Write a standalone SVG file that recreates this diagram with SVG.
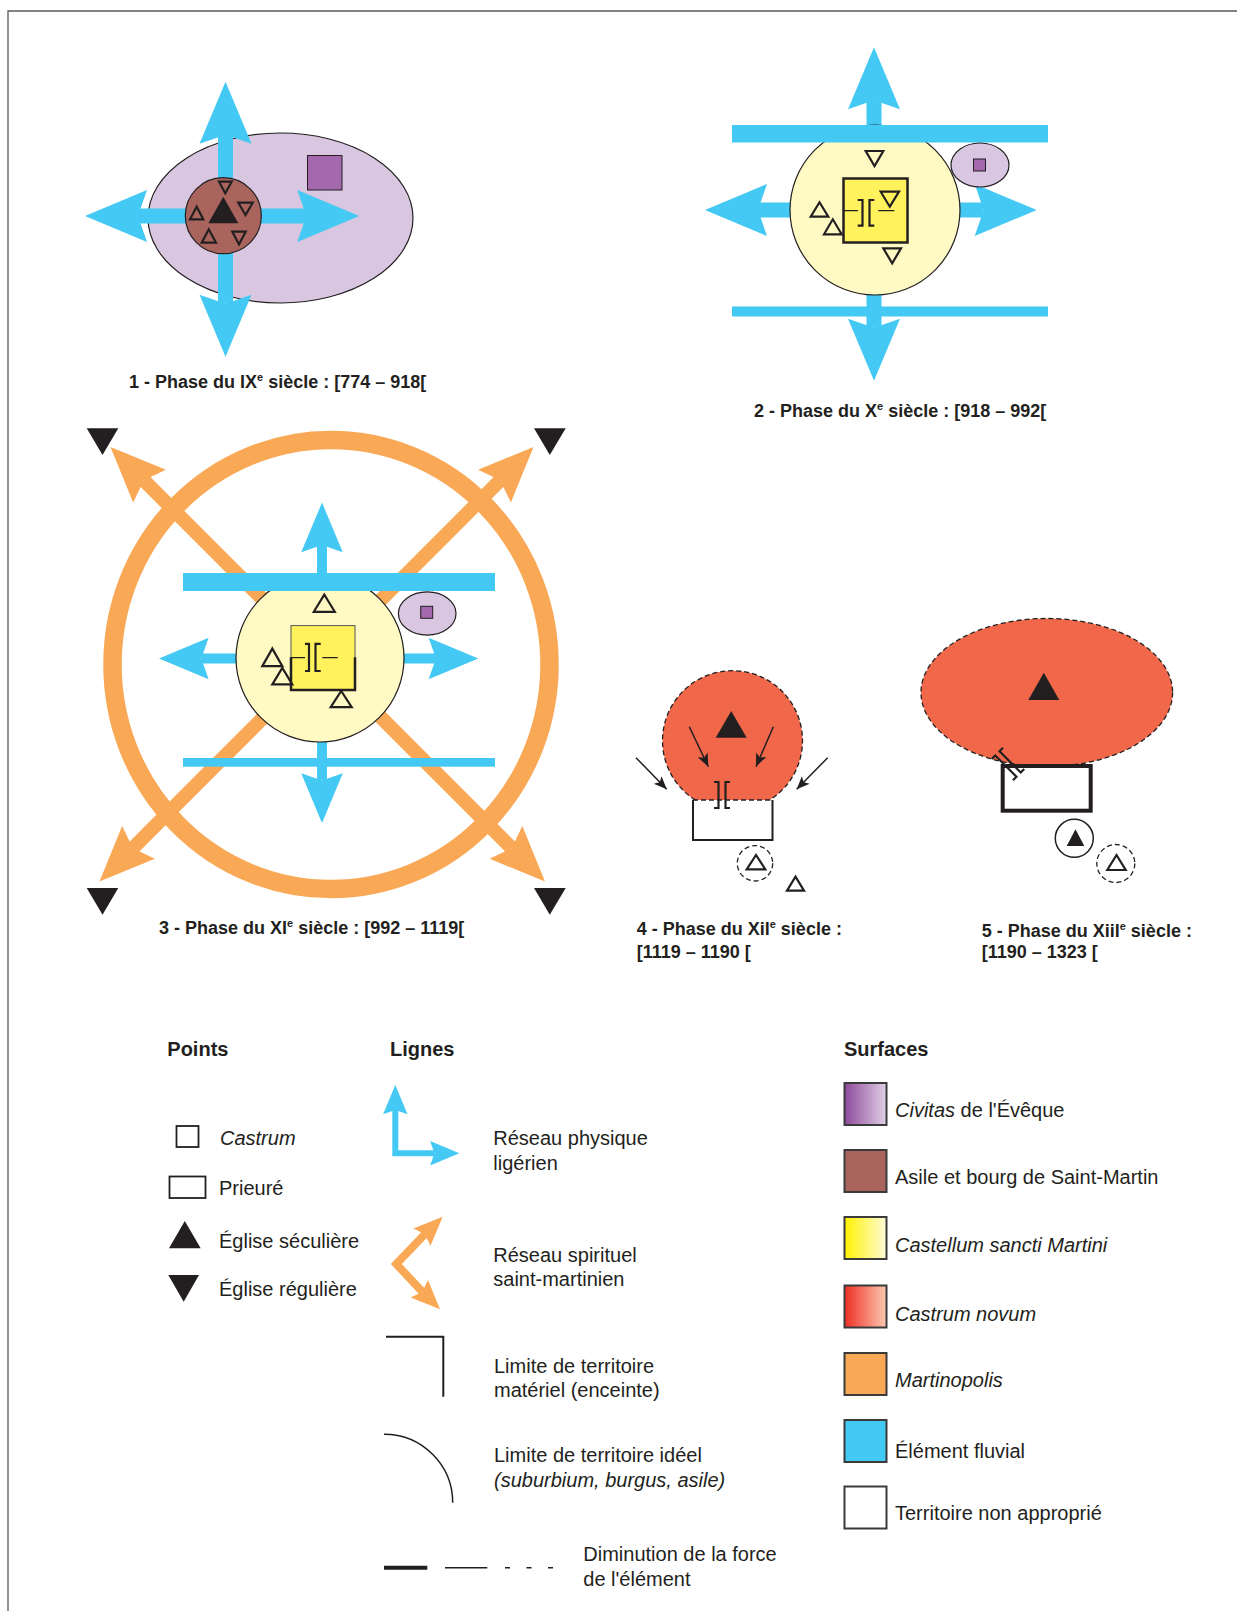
<svg xmlns="http://www.w3.org/2000/svg" width="1237" height="1611" viewBox="0 0 1237 1611">
<style>
.t{font-family:"Liberation Sans",Arial,sans-serif;fill:#231f20}
.cap{font-size:18px;font-weight:bold}
.lg{font-size:20px}
.hdr{font-size:20px;font-weight:bold}
.it{font-style:italic}
.blue{fill:#43c9f3}
.bsh{stroke:#43c9f3;fill:none}
.org{fill:#f9a856}
.osh{stroke:#f9a856;fill:none}
.tri{fill:none;stroke:#231f20;stroke-width:2.2;stroke-linejoin:miter}
.blk{fill:#231f20}
.gate{fill:none;stroke:#231f20;stroke-width:2.2}
.ln{fill:none;stroke:#231f20}
.dsh{stroke:#231f20;stroke-width:1.3;stroke-dasharray:5 3}
.sw{stroke:#3a3a3a;stroke-width:2}
</style>
<defs>
<path id="hd" d="M0,0 L-62,-26 L-53,0 L-62,26 Z"/>
<marker id="ah" viewBox="-14 -6 14 12" markerWidth="14" markerHeight="12" refX="0" refY="0" orient="auto" markerUnits="userSpaceOnUse"><path d="M0,0 L-13,-5.5 L-10,0 L-13,5.5 Z" fill="#231f20"/></marker>
<linearGradient id="gPurple"><stop offset="0" stop-color="#8e4a9c"/><stop offset="1" stop-color="#e0d0e6"/></linearGradient>
<linearGradient id="gYellow"><stop offset="0" stop-color="#fff200"/><stop offset="1" stop-color="#fffbd8"/></linearGradient>
<linearGradient id="gRed"><stop offset="0" stop-color="#ee2e24"/><stop offset="1" stop-color="#fccab2"/></linearGradient>
</defs>

<g id="frame"><path d="M1237,11 H8 V1611" fill="none" stroke="#5a5a5a" stroke-width="1.3"/></g>

<!-- Phase 1 -->
<g id="phase1">
<ellipse cx="280.5" cy="218" rx="132.5" ry="85" fill="#d9c6e0" stroke="#231f20" stroke-width="1.2"/>
<rect x="307.5" y="155.5" width="34.5" height="34.5" fill="#a369ac" stroke="#231f20" stroke-width="1"/>
<g id="p1-arrows">
<line class="bsh" x1="225.5" y1="134.7" x2="225.5" y2="303.7" stroke-width="15"/>
<line class="bsh" x1="138" y1="216" x2="306.3" y2="216" stroke-width="15"/>
<use href="#hd" class="blue" transform="translate(225.5,81.7) rotate(-90)"/>
<use href="#hd" class="blue" transform="translate(225.5,356.7) rotate(90)"/>
<use href="#hd" class="blue" transform="translate(85,216) rotate(180)"/>
<use href="#hd" class="blue" transform="translate(359.3,216)"/>
</g>
<circle cx="223.3" cy="215.7" r="38" fill="#a9655d" stroke="#231f20" stroke-width="1.2"/>
<polygon class="blk" points="208.3,223.3 238.3,223.3 223.3,196.7"/>
<g style="stroke-width:2">
<polygon class="tri" points="219,181.7 231.7,181.7 225.3,193.3"/>
<polygon class="tri" points="238.3,202.7 252.7,202.7 245.5,215"/>
<polygon class="tri" points="232.3,231.7 245.7,231.7 239,244.3"/>
<polygon class="tri" points="190,219.3 203.3,219.3 196.7,206.7"/>
<polygon class="tri" points="201.7,242.7 216,242.7 208.8,229.3"/>
</g>
<text class="t cap" x="129" y="388">1 - Phase du IX<tspan font-size="11" dy="-7">e</tspan><tspan dy="7"> siècle : [774 – 918[</tspan></text>
</g>

<!-- Phase 2 -->
<g id="phase2">
<g id="p2-arrows">
<line class="bsh" x1="874" y1="100.3" x2="874" y2="327.7" stroke-width="15"/>
<line class="bsh" x1="758" y1="210" x2="983.7" y2="210" stroke-width="15"/>
<use href="#hd" class="blue" transform="translate(874,47.3) rotate(-90)"/>
<use href="#hd" class="blue" transform="translate(874,380.7) rotate(90)"/>
<use href="#hd" class="blue" transform="translate(705,210) rotate(180)"/>
<use href="#hd" class="blue" transform="translate(1036.7,210)"/>
</g>
<circle cx="875" cy="210" r="85" fill="#fff9c4" stroke="#231f20" stroke-width="1.2"/>
<rect class="blue" x="732" y="125" width="316" height="17.5"/>
<rect class="blue" x="732" y="306.5" width="316" height="10"/>
<ellipse cx="980" cy="165" rx="29" ry="22" fill="#d9c6e0" stroke="#231f20" stroke-width="1.2"/>
<rect x="973.5" y="159" width="12" height="12" fill="#a369ac" stroke="#231f20" stroke-width="1"/>
<rect x="843.5" y="178.5" width="64" height="64" fill="#fff25c" stroke="#231f20" stroke-width="2.5"/>
<path class="ln" stroke-width="1.2" d="M843,210.7 H858 M878.3,210.7 H894.3"/>
<path class="gate" d="M857.7,200 H862.5 V225.7 H857.7 M874.3,200 H869.5 V225.7 H874.3"/>
<polygon class="tri" points="865.7,151 883.3,151 874.5,166"/>
<polygon class="tri" points="810.7,216.7 828.3,216.7 819.5,202.3"/>
<polygon class="tri" points="824,234.3 841.7,234.3 832.8,219.3"/>
<polygon class="tri" points="880.7,191.7 899,191.7 889.8,206.7"/>
<polygon class="tri" points="883.3,248.3 901,248.3 892.2,263.3"/>
<text class="t cap" x="754" y="416.7">2 - Phase du X<tspan font-size="11" dy="-7">e</tspan><tspan dy="7"> siècle : [918 – 992[</tspan></text>
</g>

<!-- Phase 3 -->
<g id="phase3">
<ellipse cx="331" cy="664.5" rx="218.5" ry="224.5" fill="none" stroke="#f9a856" stroke-width="18.5"/>
<g id="p3-orange">
<line class="osh" x1="143.9" y1="480.4" x2="511.6" y2="848.1" stroke-width="14"/>
<line class="osh" x1="500.1" y1="480.4" x2="132.9" y2="848.1" stroke-width="14"/>
<use href="#hd" class="org" transform="translate(110.5,447) rotate(-135) scale(0.89)"/>
<use href="#hd" class="org" transform="translate(533.5,447) rotate(-45) scale(0.89)"/>
<use href="#hd" class="org" transform="translate(99.5,881.5) rotate(135) scale(0.89)"/>
<use href="#hd" class="org" transform="translate(545,881.5) rotate(45) scale(0.89)"/>
</g>
<g id="p3-blue">
<line class="bsh" x1="322" y1="545" x2="322" y2="780.5" stroke-width="10"/>
<line class="bsh" x1="201.4" y1="658.5" x2="435.9" y2="658.5" stroke-width="10"/>
<use href="#hd" class="blue" transform="translate(322,502.6) rotate(-90) scale(0.8)"/>
<use href="#hd" class="blue" transform="translate(322,822.9) rotate(90) scale(0.8)"/>
<use href="#hd" class="blue" transform="translate(159,658.5) rotate(180) scale(0.8)"/>
<use href="#hd" class="blue" transform="translate(478.3,658.5) scale(0.8)"/>
</g>
<circle cx="320" cy="658" r="84" fill="#fff9c4" stroke="#231f20" stroke-width="1.2"/>
<rect class="blue" x="183" y="573" width="312" height="18"/>
<rect class="blue" x="183" y="758" width="312" height="8.7"/>
<ellipse cx="427.2" cy="613.5" rx="28.8" ry="21.7" fill="#d9c6e0" stroke="#231f20" stroke-width="1.2"/>
<rect x="420.7" y="606.3" width="12" height="12" fill="#a369ac" stroke="#231f20" stroke-width="1"/>
<rect x="291" y="625.6" width="64" height="64.4" fill="#fff25c" stroke="#555" stroke-width="1"/>
<path class="ln" stroke-width="2.5" d="M291,657.2 V690 H355 V657.2"/>
<path class="ln" stroke-width="1.2" d="M291,657.6 H305 M322.3,657.6 H337.7"/>
<path class="gate" d="M305,643.8 H309 V671 H305 M320.7,643.8 H315.5 V671 H320.7"/>
<g style="stroke-width:2.5">
<polygon class="tri" points="313.8,611.8 334.8,611.8 324.3,594.6"/>
<polygon class="tri" points="262.3,666.2 282.3,666.2 272.3,648.6"/>
<polygon class="tri" points="272.3,684.4 292.3,684.4 282.3,667.9"/>
<polygon class="tri" points="330.7,707.2 351.7,707.2 341.2,691"/>
</g>
<polygon class="blk" points="86.7,428.2 118.3,428.2 102.5,455.1"/>
<polygon class="blk" points="534,428.2 565.7,428.2 549.8,455.1"/>
<polygon class="blk" points="86.7,888 118.3,888 102.5,914.8"/>
<polygon class="blk" points="534,888 565.7,888 549.8,914.8"/>
<text class="t cap" x="159" y="934.4">3 - Phase du XI<tspan font-size="11" dy="-7">e</tspan><tspan dy="7"> siècle : [992 – 1119[</tspan></text>
</g>

<!-- Phase 4 -->
<g id="phase4">
<path d="M695.3,800 A70,70 0 1,1 769.7,800 Z" fill="#f1674a" stroke="none"/>
<path class="dsh" fill="none" d="M695.3,800 A70,70 0 1,1 769.7,800"/>
<path class="ln" stroke-width="2" d="M693,800 V840 H772.5 V800"/>
<line class="dsh" x1="693" y1="800" x2="772.5" y2="800"/>
<polygon class="blk" points="715.7,737.7 746.7,737.7 731.2,711"/>
<path class="gate" d="M714,782 H718.5 V808 H714 M730,782 H725.5 V808 H730"/>
<circle cx="755" cy="863.3" r="17.7" fill="none" class="dsh"/>
<polygon class="tri" points="746.7,869.3 765.3,869.3 756,855"/>
<polygon class="tri" points="787,890.7 804,890.7 795.5,876.7"/>
<text class="t cap" x="636.7" y="935">4 - Phase du Xil<tspan font-size="11" dy="-7">e</tspan><tspan dy="7"> siècle :</tspan></text>
<text class="t cap" x="636.7" y="958.3">[1119 – 1190 [</text>
</g>

<!-- Phase 5 -->
<g id="phase5">
<ellipse cx="1046.8" cy="692.5" rx="125.8" ry="74" fill="#f1674a" class="dsh"/>
<rect x="1002.7" y="766" width="88" height="44.7" fill="#fff" stroke="#231f20" stroke-width="4"/>
<polygon class="blk" points="1028.3,700 1059.3,700 1043.8,672.7"/>
<g transform="translate(1008,764) rotate(-45)">
<path class="gate" d="M-8,-15 H-3 V15 H-8 M8,-15 H3 V15 H8"/>
</g>
<circle cx="1074.3" cy="838.3" r="19" fill="none" stroke="#231f20" stroke-width="1.5"/>
<polygon class="blk" points="1066.7,846 1084.3,846 1075.5,829.3"/>
<circle cx="1115.8" cy="863.5" r="19" fill="none" class="dsh"/>
<polygon class="tri" points="1107.3,870 1125.7,870 1116.5,855"/>
<text class="t cap" x="981.7" y="936.5">5 - Phase du Xiil<tspan font-size="11" dy="-7">e</tspan><tspan dy="7"> siècle :</tspan></text>
<text class="t cap" x="981.7" y="958.3">[1190 – 1323 [</text>
</g>

<!-- Connectors (phase 4 pressure arrows) -->
<g id="connectors" stroke="#231f20" stroke-width="1.5" fill="none">
<line x1="689.3" y1="726.7" x2="708.3" y2="766.7" marker-end="url(#ah)"/>
<line x1="773.3" y1="726.7" x2="756" y2="766.7" marker-end="url(#ah)"/>
<line x1="636" y1="757.7" x2="666.7" y2="789.3" marker-end="url(#ah)"/>
<line x1="827.7" y1="757.7" x2="796.7" y2="789.3" marker-end="url(#ah)"/>
</g>

<!-- Legend: Points -->
<g id="legend-points">
<text class="t hdr" x="167.3" y="1055.7">Points</text>
<g id="lp-castrum"><rect x="176.5" y="1126" width="22" height="21" fill="#fff" stroke="#231f20" stroke-width="1.8"/><text class="t lg it" x="220" y="1145">Castrum</text></g>
<g id="lp-prieure"><rect x="169.5" y="1176.5" width="36" height="21.5" fill="#fff" stroke="#231f20" stroke-width="1.8"/><text class="t lg" x="219" y="1195">Prieuré</text></g>
<g id="lp-seculiere"><polygon class="blk" points="169,1248.3 200.7,1248.3 184.8,1221"/><text class="t lg" x="219" y="1248.3">Église séculière</text></g>
<g id="lp-reguliere"><polygon class="blk" points="168.3,1275 199,1275 183.7,1301.7"/><text class="t lg" x="219" y="1295.7">Église régulière</text></g>
</g>

<!-- Legend: Lignes -->
<g id="legend-lines">
<text class="t hdr" x="390" y="1055.7">Lignes</text>
<g id="ll-physique">
<path class="bsh" stroke-width="6" stroke-linejoin="miter" d="M395.3,1110 V1153.3 H434.3"/>
<use href="#hd" class="blue" transform="translate(395.3,1085) rotate(-90) scale(0.47)"/>
<use href="#hd" class="blue" transform="translate(459.3,1153.3) scale(0.47)"/>
<text class="t lg" x="493.3" y="1145">Réseau physique</text>
<text class="t lg" x="493.3" y="1170">ligérien</text>
</g>
<g id="ll-spirituel">
<path class="osh" stroke-width="8" stroke-linejoin="miter" d="M424.8,1234.2 L396.3,1264 L422.3,1291.7"/>
<use href="#hd" class="org" transform="translate(442.7,1216.7) rotate(-44.5) scale(0.47)"/>
<use href="#hd" class="org" transform="translate(440,1309.3) rotate(44.9) scale(0.47)"/>
<text class="t lg" x="493.3" y="1261.7">Réseau spirituel</text>
<text class="t lg" x="493.3" y="1285.7">saint-martinien</text>
</g>
<g id="ll-materiel">
<path class="ln" stroke-width="2" d="M386,1336.7 H443.3 V1396.7"/>
<text class="t lg" x="494" y="1373.3">Limite de territoire</text>
<text class="t lg" x="494" y="1396.7">matériel (enceinte)</text>
</g>
<g id="ll-ideel">
<path class="ln" stroke-width="1.5" d="M384,1434.3 A68.7,68.4 0 0 1 452.7,1502.7"/>
<text class="t lg" x="494" y="1461.7">Limite de territoire idéel</text>
<text class="t lg it" x="494" y="1486.7">(suburbium, burgus, asile)</text>
</g>
<g id="ll-force">
<line x1="384" y1="1567.7" x2="427.3" y2="1567.7" stroke="#231f20" stroke-width="4"/>
<line x1="445" y1="1567.7" x2="487.3" y2="1567.7" stroke="#231f20" stroke-width="1.5"/>
<line x1="505" y1="1567.7" x2="553" y2="1567.7" stroke="#231f20" stroke-width="1.5" stroke-dasharray="5 16.5"/>
<text class="t lg" x="583.3" y="1560.7">Diminution de la force</text>
<text class="t lg" x="583.3" y="1586">de l'élément</text>
</g>
</g>

<!-- Legend: Surfaces -->
<g id="legend-surfaces">
<text class="t hdr" x="844" y="1055.7">Surfaces</text>
<g id="ls-civitas"><rect class="sw" x="844.5" y="1083" width="42" height="42" fill="url(#gPurple)"/><text class="t lg" x="895" y="1117"><tspan class="it">Civitas</tspan> de l'Évêque</text></g>
<g id="ls-asile"><rect class="sw" x="844.5" y="1150" width="42" height="42" fill="#a9655d"/><text class="t lg" x="895" y="1183.6">Asile et bourg de Saint-Martin</text></g>
<g id="ls-castellum"><rect class="sw" x="844.5" y="1217" width="42" height="42" fill="url(#gYellow)"/><text class="t lg it" x="895" y="1252">Castellum sancti Martini</text></g>
<g id="ls-novum"><rect class="sw" x="844.5" y="1285.5" width="42" height="42" fill="url(#gRed)"/><text class="t lg it" x="895" y="1320.7">Castrum novum</text></g>
<g id="ls-martinopolis"><rect class="sw" x="844.5" y="1353" width="42" height="42" fill="#f9a856"/><text class="t lg it" x="895" y="1386.8">Martinopolis</text></g>
<g id="ls-fluvial"><rect class="sw" x="844.5" y="1420" width="42" height="42" fill="#43c9f3"/><text class="t lg" x="895" y="1457.5">Élément fluvial</text></g>
<g id="ls-non"><rect class="sw" x="844.5" y="1486.5" width="42" height="42" fill="#fff"/><text class="t lg" x="895" y="1520">Territoire non approprié</text></g>
</g>
</svg>
